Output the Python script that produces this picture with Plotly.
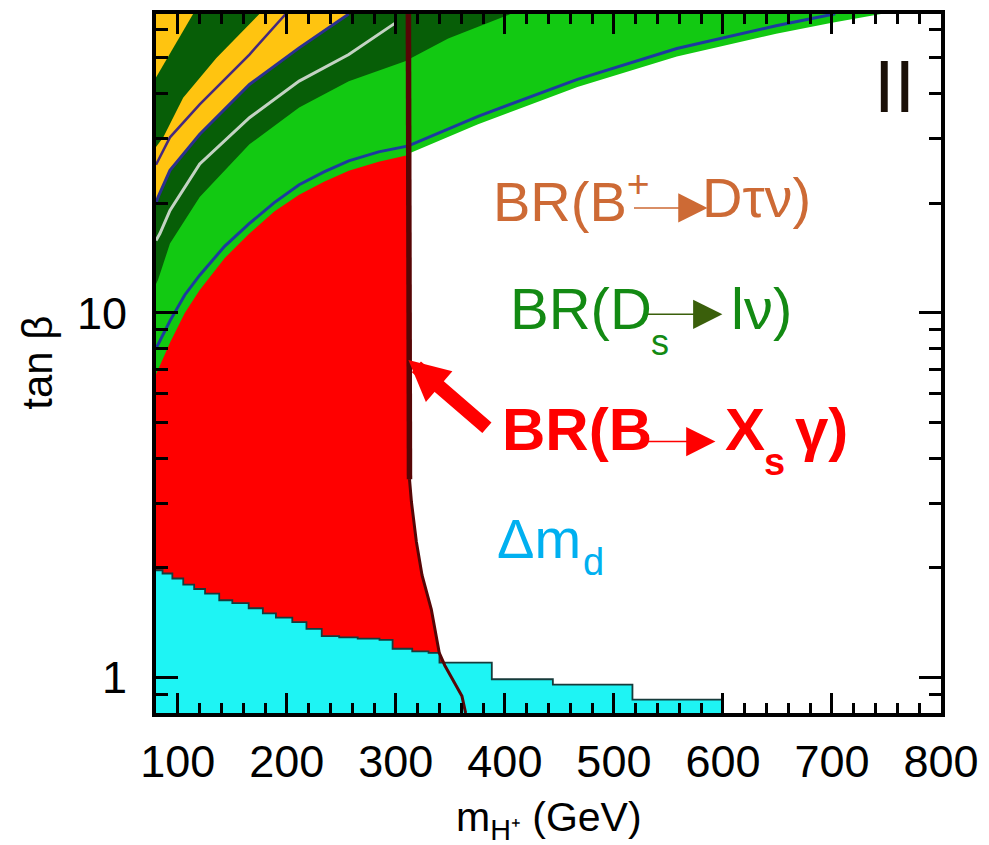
import plotly.graph_objects as go

# ---------------- data ----------------
X_MIN, X_MAX = 80, 800
Y_BOT, Y_TOP = 0.8, 66.0

x_major = [100, 200, 300, 400, 500, 600, 700, 800]
y_major = [1, 10]
y_minor = [0.9, 2, 3, 4, 5, 6, 7, 8, 9, 20, 30, 40, 50, 60]

# Delta m_d (cyan) excluded region: staircase upper edge (value holds until next x)
dmd_x = [80, 86, 95, 105, 115, 125, 138, 150, 165, 178, 190, 205, 218, 232, 248, 265, 285, 297, 315, 330, 340, 388, 444, 517, 600]
dmd_y = [1.97, 1.93, 1.87, 1.80, 1.75, 1.70, 1.63, 1.60, 1.55, 1.50, 1.46, 1.42, 1.36, 1.30, 1.29, 1.28, 1.27, 1.20, 1.18, 1.17, 1.10, 0.99, 0.957, 0.871, 0.871]

# B -> Xs gamma (red): upper edge of the region
bsg_top_x = [80, 92.8, 106.4, 120.1, 142.9, 165.7, 188.5, 211.3, 234.1, 256.8, 284.2, 311.5]
bsg_top_y = [6.78, 8.28, 10.0, 11.55, 14.12, 16.52, 18.96, 21.10, 22.89, 24.52, 25.95, 27.12]
# B -> Xs gamma mass bound (dark line)
bsg_edge_x = [311.5, 311.5, 311.5, 312.5, 314.3, 318.8, 324.0, 332.5, 339.8, 344.9, 353.5, 360.6, 364.0]
bsg_edge_y = [66.0, 27.12, 4.2, 3.5, 3.03, 2.36, 1.91, 1.54, 1.17, 1.08, 0.97, 0.89, 0.80]

# Ds -> l nu (bright green): lower edge of region and its blue contour
ds_low_x = [80, 200, 311.5, 375.4, 466.5, 557.7, 648.8, 700, 745]
ds_low_y = [6.0, 10.5, 27.3, 32.9, 41.6, 50.5, 58.3, 62.5, 66.0]
ds_line_x = [80, 92.8, 106.4, 120.1, 142.9, 165.7, 188.5, 211.3, 234.1, 256.8, 284.2, 311.5, 375.4, 466.5, 557.7, 648.8, 703]
ds_line_y = [7.98, 9.51, 11.2, 12.69, 15.23, 17.59, 20.07, 22.46, 24.37, 26.12, 27.64, 28.7, 34.6, 43.7, 53.1, 61.3, 66.1]

# B+ -> D tau nu bands
dg_low_x = [80, 81.8, 92.8, 120.1, 165.7, 211.3, 256.8, 308.5, 348, 396.3, 405]
dg_low_y = [12.0, 12.3, 15.5, 20.8, 29.0, 36.6, 43.2, 49.0, 56.5, 64.3, 66.0]
gray_x = [80, 83.6, 92.8, 120.1, 165.7, 211.3, 256.8, 300]
gray_y = [15.8, 16.5, 19.1, 25.6, 34.3, 43.2, 51.1, 62.5]
blue_up_x = [80, 82, 92.8, 120.1, 165.7, 211.3, 256.8]
blue_up_y = [20.0, 20.8, 24.6, 30.9, 42.3, 53.3, 66.0]
purple_x = [80, 82, 92.8, 120.1, 165.7, 199]
purple_y = [25.5, 26.2, 30.3, 37.3, 51.1, 66.0]
yel_up_x = [80, 86.7, 104.9, 135.4, 174.8]
yel_up_y = [28.5, 30.3, 38.9, 50.0, 66.0]
corner_x = [80, 95.8, 114]
corner_y = [44.2, 53.3, 66.0]

# ---------------- colours ----------------
C_GREEN = "#12c912"
C_DKGREEN = "#075e07"
C_YELLOW = "#ffc410"
C_RED = "#ff0000"
C_CYAN = "#1ef4f4"
C_MAROON = "#560606"

fig = go.Figure()

def poly(xs, ys, color):
    fig.add_trace(go.Scatter(x=xs, y=ys, mode="lines", fill="toself", fillcolor=color,
                             line=dict(width=0, color=color), hoverinfo="skip"))

def line(xs, ys, color, width, shape="linear"):
    fig.add_trace(go.Scatter(x=xs, y=ys, mode="lines", line=dict(color=color, width=width, shape=shape),
                             hoverinfo="skip"))

# bright green Ds region
poly(ds_low_x + [X_MIN], ds_low_y + [Y_TOP], C_GREEN)
# dark green B->D tau nu region
poly(dg_low_x + [X_MIN], dg_low_y + [Y_TOP], C_DKGREEN)
# yellow band
poly(blue_up_x + yel_up_x[::-1], blue_up_y + yel_up_y[::-1], C_YELLOW)
poly(corner_x + [X_MIN], corner_y + [Y_TOP], C_YELLOW)
# contours
line(purple_x, purple_y, "#45287e", 2.5)
line(blue_up_x, blue_up_y, "#2b2f8f", 3)
line(gray_x, gray_y, "#c3d3c3", 3)
line(ds_line_x, ds_line_y, "#1d3aa0", 3)

# red B->Xs gamma region
edge_x = [x for x, y in zip(bsg_edge_x, bsg_edge_y) if y < bsg_top_y[-1]]
edge_y = [y for y in bsg_edge_y if y < bsg_top_y[-1]]
poly([X_MIN] + bsg_top_x + edge_x + [X_MIN], [Y_BOT] + bsg_top_y + edge_y + [Y_BOT], C_RED)

# cyan Delta m_d region (staircase)
fig.add_trace(go.Scatter(x=[X_MIN] + dmd_x + [dmd_x[-1]], y=[Y_BOT] + dmd_y + [Y_BOT], mode="lines",
                         fill="toself", fillcolor=C_CYAN, line=dict(width=0, shape="hv", color=C_CYAN),
                         hoverinfo="skip"))
line(dmd_x, dmd_y, "#173b3b", 1.8, shape="hv")

# dark B->Xs gamma bound line
upper = [(x, y) for x, y in zip(bsg_edge_x, bsg_edge_y) if y >= 3.5]
lower = [(x, y) for x, y in zip(bsg_edge_x, bsg_edge_y) if y <= 3.5]
line([p[0] for p in upper], [p[1] for p in upper], C_MAROON, 5.5)
line([p[0] for p in lower], [p[1] for p in lower], C_MAROON, 3)

# ---------------- annotations ----------------
L, R, T, B = 156, 946, 10, 713

def pp(px, py):
    return (px - L) / (R - L), (B - py) / (B - T)

FONT = "Liberation Sans, Arial, sans-serif"
ann = []

def txt(px, py, s, size, color, bold=False, anchor="left", angle=0):
    x, y = pp(px, py)
    ann.append(dict(x=x, y=y, xref="paper", yref="paper", text=("<b>%s</b>" % s) if bold else s,
                    showarrow=False, xanchor=anchor, yanchor="middle", textangle=angle,
                    font=dict(family=FONT, size=size, color=color)))

def arrow(tail, tip, color, width, size, head=2):
    x, y = pp(*tip)
    ann.append(dict(x=x, y=y, xref="paper", yref="paper", text="", showarrow=True,
                    ax=tail[0] - tip[0], ay=tail[1] - tip[1], arrowhead=head, arrowwidth=width,
                    arrowsize=size, arrowcolor=color, standoff=0))

# II
txt(899, 83, "II", 74, "#1a1008", anchor="center")
# BR(B+ -> D tau nu)
C_OR = "#cd6a35"
txt(493, 195, "BR(B<sup>+</sup>", 56, C_OR)
arrow((636, 205), (711, 205), C_OR, 1.5, 3.9)
txt(703, 195, "Dτν)", 56, C_OR)
# BR(Ds -> l nu)
C_GR = "#138a13"
txt(510, 306, "BR(D", 58, C_GR)
txt(652, 340, "s", 36, C_GR)
arrow((650, 312), (726, 312), "#3a5f0b", 1.5, 3.9)
txt(733, 306, "lν)", 58, C_GR)
# BR(B -> Xs gamma)
txt(502, 428, "BR(B", 60, C_RED, bold=True)
arrow((643, 440), (719, 440), C_RED, 1.5, 3.9)
txt(727, 428, "X", 60, C_RED, bold=True)
txt(766, 461, "s", 38, C_RED, bold=True)
txt(797, 428, "γ)", 60, C_RED, bold=True)
# big red arrow
arrow((490, 427), (410, 358), C_RED, 14, 0.58)
# Delta m_d
C_BL = "#00b0f0"
txt(497, 537, "Δm", 56, C_BL)
txt(584, 561, "d", 38, C_BL)
# axis titles
txt(36, 361, "tan β", 42, "black", anchor="center", angle=-90)
txt(551, 821, "m<sub>H⁺</sub> (GeV)", 41, "black", anchor="center")

fig.update_layout(
    width=989, height=845, margin=dict(l=L, r=989 - R, t=T, b=845 - B),
    plot_bgcolor="white", paper_bgcolor="white", showlegend=False, annotations=ann,
)
axis_common = dict(ticks="inside", tickcolor="black", tickwidth=3, showline=True, linewidth=4,
                   linecolor="black", mirror="ticks", showgrid=False, zeroline=False,
                   tickfont=dict(family=FONT, size=45, color="black"))
fig.update_xaxes(range=[X_MIN, X_MAX], tickmode="array", tickvals=x_major, ticklen=20,
                 minor=dict(tickmode="array", tickvals=[v for v in range(80, 801, 20) if v % 100],
                            ticks="inside", ticklen=10, tickwidth=3, tickcolor="black", showgrid=False),
                 ticklabelstandoff=6, **axis_common)
fig.update_yaxes(type="log", range=[-0.09691, 1.81954], tickmode="array", tickvals=y_major,
                 ticktext=[str(v) for v in y_major], ticklen=22,
                 minor=dict(tickmode="array", tickvals=y_minor, ticks="inside", ticklen=12, tickwidth=3,
                            tickcolor="black", showgrid=False),
                 ticklabelstandoff=16, **axis_common)

fig.write_html("out.html")
